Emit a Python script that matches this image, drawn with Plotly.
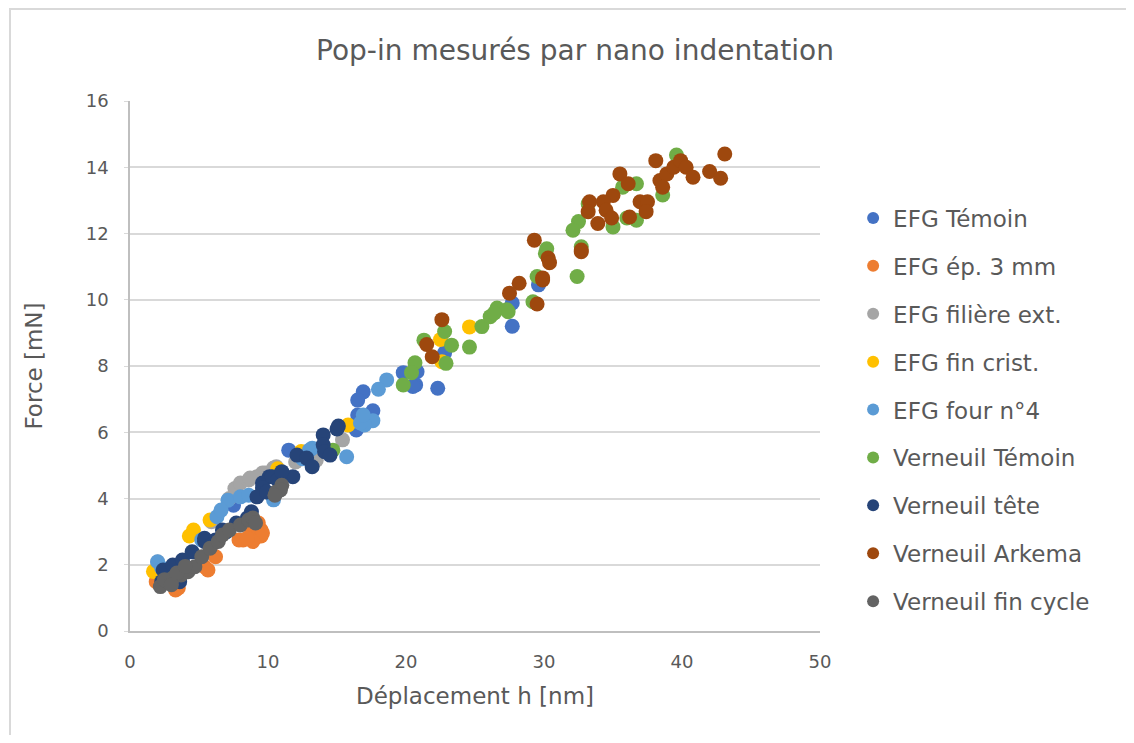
import plotly.graph_objects as go

# ---------------- data ----------------
names = ["EFG Témoin", "EFG ép. 3 mm", "EFG filière ext.", "EFG fin crist.", "EFG four n°4",
         "Verneuil Témoin", "Verneuil tête", "Verneuil Arkema", "Verneuil fin cycle"]
colors = ["#4472C4", "#ED7D31", "#A5A5A5", "#FFC000", "#5B9BD5",
          "#70AD47", "#264478", "#9E480E", "#636363"]

efg_temoin_x = [11.5, 16.9, 16.5, 17.6, 16.5, 16.4, 19.8, 20.8, 20.7, 20.5, 22.3, 27.7, 29.6, 27.7, 22.8, 13.0, 7.5, 3.5]
efg_temoin_y = [5.46, 7.22, 6.97, 6.65, 6.52, 6.07, 7.8, 7.83, 7.43, 7.38, 7.33, 9.2, 10.45, 9.9, 8.4, 5.3, 3.8, 1.9]

efg_ep3_x = [8.2, 9.2, 9.5, 8.8, 9.5, 9.3, 7.9, 9.6, 8.9, 6.2, 5.4, 3.3, 1.9, 5.65, 3.5, 8.5]
efg_ep3_y = [2.75, 2.85, 3.05, 3.05, 2.87, 3.26, 2.75, 2.96, 2.7, 2.24, 1.94, 1.24, 1.49, 1.84, 1.3, 2.8]

efg_filiere_x = [7.6, 8.0, 8.6, 9.2, 9.8, 10.4, 15.4, 9.6, 13.5, 8.7, 10.6, 5.9, 2.0, 7.2, 12.0, 3.0]
efg_filiere_y = [4.3, 4.47, 4.56, 4.66, 4.77, 4.92, 5.77, 4.77, 5.16, 4.62, 4.96, 3.3, 2.08, 4.0, 5.1, 1.9]

efg_fincrist_x = [4.3, 24.6, 22.5, 22.6, 15.8, 12.4, 10.7, 1.7, 5.8, 4.6, 2.3]
efg_fincrist_y = [2.87, 9.18, 8.8, 8.13, 6.22, 5.42, 4.9, 1.8, 3.35, 3.05, 1.6]

efg_four4_x = [15.7, 18.6, 18.0, 17.6, 17.0, 13.2, 7.1, 6.3, 8.0, 2.0, 5.2, 6.6, 8.6, 10.4, 16.7, 16.9, 13.0, 2.3, 12.5]
efg_four4_y = [5.26, 7.58, 7.3, 6.35, 6.22, 5.52, 3.95, 3.45, 4.05, 2.09, 2.75, 3.65, 4.1, 3.96, 6.28, 6.52, 5.46, 1.9, 5.2]

ver_temoin_x = [24.6, 22.9, 22.8, 23.3, 21.3, 20.65, 19.8, 20.4, 25.5, 26.1, 26.6, 27.4, 29.2, 29.5, 32.4, 30.1,
                39.6, 36.7, 38.6, 32.5, 32.1, 35.0, 36.7, 36.0, 30.2, 32.7, 27.3, 35.7, 14.7, 26.4, 33.2, 40.0]
ver_temoin_y = [8.57, 8.08, 9.04, 8.63, 8.78, 8.1, 7.43, 7.8, 9.19, 9.49, 9.75, 9.64, 9.94, 10.7, 10.7, 11.4,
                14.37, 13.5, 13.16, 12.36, 12.1, 12.2, 12.4, 12.47, 11.54, 11.6, 9.7, 13.4, 5.46, 9.6, 12.9, 14.1]

ver_tete_x = [15.1, 14.0, 14.0, 14.1, 14.5, 12.1, 12.8, 13.2, 10.1, 10.9, 11.8, 9.6, 10.3, 10.7, 11.0, 9.6, 9.2,
              8.8, 8.5, 7.7, 7.0, 6.2, 5.4, 2.4, 3.1, 3.8, 4.5, 5.4, 2.3, 3.6, 5.9, 6.7, 15.0, 9.9]
ver_tete_y = [6.19, 5.92, 5.62, 5.41, 5.31, 5.31, 5.22, 4.96, 4.66, 4.62, 4.66, 4.47, 4.66, 4.56, 4.81, 4.32, 4.05,
              3.6, 3.41, 3.26, 3.0, 2.75, 2.7, 1.84, 1.99, 2.14, 2.39, 2.8, 1.49, 1.49, 2.6, 3.05, 6.1, 4.2]

ver_arkema_x = [22.6, 21.5, 21.9, 28.2, 27.5, 29.5, 29.9, 30.3, 30.4, 32.7, 43.1, 38.1, 35.5, 36.1, 35.0, 33.3,
                33.2, 34.3, 34.5, 33.9, 34.9, 36.2, 36.96, 37.5, 37.4, 38.4, 38.9, 39.4, 39.9, 40.3, 38.6, 40.8,
                42.0, 42.8, 29.3, 29.9, 32.7]
ver_arkema_y = [9.4, 8.65, 8.28, 10.5, 10.2, 9.87, 10.6, 11.26, 11.12, 11.45, 14.4, 14.2, 13.8, 13.5, 13.15, 12.96,
                12.66, 12.96, 12.7, 12.3, 12.47, 12.5, 12.96, 12.96, 12.66, 13.6, 13.8, 14.0, 14.2, 14.0, 13.4, 13.7,
                13.87, 13.67, 11.8, 10.66, 11.5]

ver_fincycle_x = [2.2, 2.7, 3.1, 3.7, 4.2, 4.7, 5.2, 5.8, 6.4, 6.7, 7.2, 8.0, 8.6, 8.9, 9.1, 10.6, 11.0, 10.9,
                  10.5, 2.5, 3.4, 4.0, 3.0]
ver_fincycle_y = [1.34, 1.49, 1.6, 1.69, 1.79, 1.94, 2.24, 2.5, 2.7, 2.9, 3.05, 3.2, 3.35, 3.41, 3.26, 4.2, 4.4,
                  4.26, 4.1, 1.55, 1.75, 1.95, 1.4]

xs = [efg_temoin_x, efg_ep3_x, efg_filiere_x, efg_fincrist_x, efg_four4_x,
      ver_temoin_x, ver_tete_x, ver_arkema_x, ver_fincycle_x]
ys = [efg_temoin_y, efg_ep3_y, efg_filiere_y, efg_fincrist_y, efg_four4_y,
      ver_temoin_y, ver_tete_y, ver_arkema_y, ver_fincycle_y]

x_ticks = [0, 10, 20, 30, 40, 50]
y_ticks = [0, 2, 4, 6, 8, 10, 12, 14, 16]

FONT = "DejaVu Sans"
GREY = "#595959"

W, H = 1118, 727  # page body has an 8px margin

fig = go.Figure()
for i, (n, c, x, y) in enumerate(zip(names, colors, xs, ys)):
    fig.add_trace(go.Scatter(x=x, y=y, mode="markers", name=n, legendgroup=f"g{i}",
                             marker=dict(color=c, size=15, line=dict(width=0))))

fig.update_layout(
    width=W, height=H,
    paper_bgcolor="white", plot_bgcolor="white",
    margin=dict(l=122, r=306, t=93, b=104),
    font=dict(family=FONT, color=GREY),
    title=dict(text="Pop-in mesurés par nano indentation", x=567 / W, xanchor="center",
               y=1 - 42 / H, yanchor="middle", font=dict(size=28, color=GREY, family=FONT)),
    xaxis=dict(range=[0, 50], tickvals=x_ticks, showgrid=False, zeroline=False,
               showline=True, linecolor="#bfbfbf", linewidth=1.5, ticks="",
               ticklabelstandoff=14,
               tickfont=dict(size=18, color=GREY),
               title=dict(text="Déplacement h [nm]", font=dict(size=23, color=GREY), standoff=17)),
    yaxis=dict(range=[0, 16], tickvals=y_ticks, showgrid=True, gridcolor="#d9d9d9", gridwidth=1.5,
               zeroline=False, showline=True, linecolor="#bfbfbf", linewidth=1.5,
               ticks="outside", ticklen=4, tickcolor="#d9d9d9", ticklabelstandoff=12,
               tickfont=dict(size=18, color=GREY),
               title=dict(text="Force [mN]", font=dict(size=23, color=GREY), standoff=37)),
    legend=dict(x=1.048, xanchor="left", y=0.417, yanchor="middle", traceorder="grouped",
                tracegroupgap=15, font=dict(size=23, color=GREY), itemsizing="constant",
                bgcolor="rgba(0,0,0,0)"),
    showlegend=True,
)

# outer chart border (light grey frame as in the reference)
fig.add_shape(type="rect", xref="paper", yref="paper",
              x0=(10 - 130) / 690, x1=(1150 - 130) / 690,
              y0=(631 - 760) / 530, y1=(631 - 9) / 530,
              line=dict(color="#d9d9d9", width=2), fillcolor="rgba(0,0,0,0)", layer="below")

fig.write_html("out.html")
